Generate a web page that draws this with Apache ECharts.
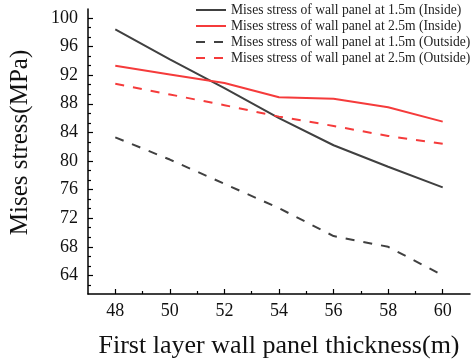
<!DOCTYPE html>
<html><head><meta charset="utf-8">
<script src="https://cdn.jsdelivr.net/npm/echarts@6/dist/echarts.min.js"></script>
<style>html,body{margin:0;padding:0;background:#fff}#c{width:474px;height:364px}</style>
</head><body><div id="c"></div>
<script>
var thickness = [48, 50, 52, 54, 56, 58, 60];
var inside15 = [98.4, 94.2, 90.2, 86.0, 82.2, 79.2, 76.3];
var inside25 = [93.3, 92.1, 90.9, 88.9, 88.7, 87.5, 85.5];
var outside15 = [83.3, 80.2, 76.8, 73.4, 69.5, 68.0, 64.0];
var outside25 = [90.8, 89.3, 87.8, 86.2, 84.9, 83.5, 82.4];
var seriesNames = [
  'Mises stress of wall panel at 1.5m (Inside)',
  'Mises stress of wall panel at 2.5m (Inside)',
  'Mises stress of wall panel at 1.5m (Outside)',
  'Mises stress of wall panel at 2.5m (Outside)'
];
var xTicks = [48, 50, 52, 54, 56, 58, 60];
var xMinorTicks = [49, 51, 53, 55, 57, 59];
var yTicks = [64, 68, 72, 76, 80, 84, 88, 92, 96, 100];
var yMinorTicks = [62.667, 65.333, 66.667, 69.333, 70.667, 73.333, 74.667, 77.333, 78.667, 81.333, 82.667, 85.333, 86.667, 89.333, 90.667, 93.333, 94.667, 97.333, 98.667];

var FONT = 'Liberation Serif';
var BLACK = '#404040', RED = '#f53b3b';
function pairs(ys){ return thickness.map(function(x,i){ return [x, ys[i]]; }); }

var xBase = { type: 'value', min: 47, max: 61, position: 'bottom', splitLine: {show:false} };
var yBase = { type: 'value', min: 61.4, max: 101.25, position: 'left', splitLine: {show:false} };

var chart = echarts.init(document.getElementById('c'));
chart.setOption({
  animation: false,
  grid: { left: 88, right: 4, top: 9, bottom: 66, containLabel: false },
  legend: {
    orient: 'vertical', left: 190, top: -2,
    itemWidth: 30, itemHeight: 12, itemGap: 2,
    itemStyle: { opacity: 0 },
    textStyle: { fontFamily: FONT, fontSize: 13.6, lineHeight: 14, color: '#222' },
    data: seriesNames
  },
  xAxis: [
    Object.assign({}, xBase, {
      name: 'First layer wall panel thickness(m)', nameLocation: 'middle', nameGap: 39,
      nameTextStyle: { fontFamily: FONT, fontSize: 26, color: '#111' },
      axisLine: { show: true, lineStyle: { color: '#000', width: 1.5 } },
      axisTick: { show: true, inside: true, length: 5, customValues: xTicks, lineStyle: { color: '#000', width: 1.2 } },
      axisLabel: { show: true, customValues: xTicks, margin: 8, fontFamily: FONT, fontSize: 18, color: '#111' }
    }),
    Object.assign({}, xBase, {
      axisLine: { show: false },
      axisTick: { show: true, inside: true, length: 3, customValues: xMinorTicks, lineStyle: { color: '#000', width: 1.2 } },
      axisLabel: { show: false }
    })
  ],
  yAxis: [
    Object.assign({}, yBase, {
      name: 'Mises stress(MPa)', nameLocation: 'middle', nameGap: 55,
      nameTextStyle: { fontFamily: FONT, fontSize: 25, color: '#111', padding: [0, 0, 0, 18] },
      axisLine: { show: true, lineStyle: { color: '#000', width: 1.5 } },
      axisTick: { show: true, inside: true, length: 5, customValues: yTicks, lineStyle: { color: '#000', width: 1.2 } },
      axisLabel: { show: true, customValues: yTicks, margin: 10, fontFamily: FONT, fontSize: 18, color: '#111' }
    }),
    Object.assign({}, yBase, {
      axisLine: { show: false },
      axisTick: { show: true, inside: true, length: 3, customValues: yMinorTicks, lineStyle: { color: '#000', width: 1.2 } },
      axisLabel: { show: false }
    })
  ],
  series: [
    { name: seriesNames[0], type: 'line', data: pairs(inside15), symbol: 'none', color: BLACK, lineStyle: { color: BLACK, width: 2, type: 'solid' } },
    { name: seriesNames[1], type: 'line', data: pairs(inside25), symbol: 'none', color: RED, lineStyle: { color: RED, width: 2, type: 'solid' } },
    { name: seriesNames[2], type: 'line', data: pairs(outside15), symbol: 'none', color: BLACK, lineStyle: { color: BLACK, width: 2, type: [9, 9] } },
    { name: seriesNames[3], type: 'line', data: pairs(outside25), symbol: 'none', color: RED, lineStyle: { color: RED, width: 2, type: [9, 9] } }
  ]
});
</script></body></html>
